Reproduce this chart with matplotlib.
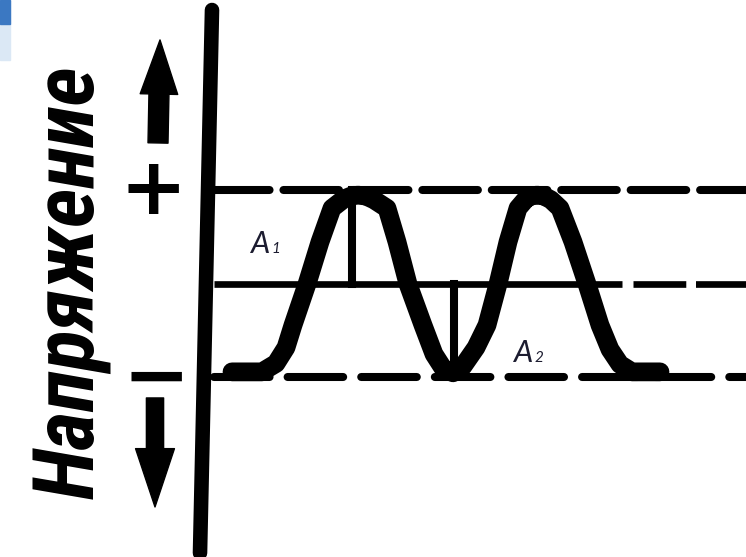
import matplotlib.pyplot as plt
from matplotlib.patches import Rectangle
from matplotlib import font_manager
import matplotlib

matplotlib.rcParams['lines.scale_dashes'] = False

# сигнал: время (усл. ед.) и напряжение (доли амплитуды)
t_sig = [232, 262, 276, 286, 293, 307, 320, 332, 344, 351, 358, 366, 374, 387, 397, 408, 423, 434,
         443, 453, 463, 476, 487, 498, 508, 518, 526, 531, 537, 544, 551, 560, 573, 587, 600, 610,
         620, 632, 660]
u_sig = [-0.94, -0.94, -0.85, -0.68, -0.44, 0.0, 0.45, 0.81, 0.91, 0.94, 0.95, 0.94, 0.90, 0.81,
         0.45, 0.0, -0.44, -0.75, -0.9, -0.95, -0.88, -0.68, -0.44, 0.0, 0.45, 0.81, 0.91, 0.94,
         0.95, 0.94, 0.90, 0.81, 0.45, 0.0, -0.44, -0.7, -0.86, -0.94, -0.94]

u_plus = 1.0     # уровень "+"
u_minus = -1.0   # уровень "-"
t_a1 = 352       # где отмечена A1
t_a2 = 454       # где отмечена A2

ylabel = 'Напряжение'


def pick_family(names):
    for name in names:
        try:
            font_manager.findfont(font_manager.FontProperties(family=name), fallback_to_default=False)
            return name
        except ValueError:
            pass
    return 'DejaVu Sans'


fig = plt.figure(figsize=(7.46, 5.57), dpi=100)
ax = fig.add_axes([0, 0, 1, 1])
ax.set_xlim(0, 746)
ax.set_ylim(-2.92, 3.037)
ax.axis('off')

# уровни
ax.plot([214, 746], [u_plus, u_plus], color='black', lw=5.8, dashes=(40, 10), dash_capstyle='round')
ax.plot([214, 622], [0, 0], color='black', lw=4.8, solid_capstyle='butt')
ax.plot([633, 746], [0, 0], color='black', lw=4.8, dashes=(38, 7))
ax.plot([214, 746], [u_minus, u_minus], color='black', lw=5.8, dashes=(40, 13), dash_capstyle='round')

# амплитуды
ax.plot([t_a1, t_a1], [0, u_plus], color='black', lw=5.8)
ax.plot([t_a2, t_a2], [0, u_minus], color='black', lw=5.8)

# сам сигнал
ax.plot(t_sig, u_sig, color='black', lw=13.5, solid_capstyle='round', solid_joinstyle='round')

# ось напряжения
ax.plot([212, 200], [2.93, -2.877], color='black', lw=10.5, solid_capstyle='round')

# стрелки
ax.annotate('', xy=(160, 2.61), xytext=(158, 1.508),
            arrowprops=dict(arrowstyle='simple,head_length=1.95,head_width=1.35,tail_width=0.72',
                            mutation_scale=20, color='black', shrinkA=0, shrinkB=0))
ax.annotate('', xy=(155, -2.385), xytext=(155, -1.219),
            arrowprops=dict(arrowstyle='simple,head_length=2.1,head_width=1.4,tail_width=0.62',
                            mutation_scale=20, color='black', shrinkA=0, shrinkB=0))

ax.text(153, 1.07, '+', fontsize=58, fontweight='bold', family='DejaVu Sans',
        ha='center', va='center_baseline')
ax.text(156, -0.93, '\u2212', fontsize=58, fontweight='bold', family='DejaVu Sans',
        ha='center', va='center_baseline')

# подпись оси: узкий жирный шрифт, подгоняем кегль под длину оси
fam = pick_family(['Liberation Sans Narrow', 'Roboto Condensed', 'DejaVu Sans Condensed',
                   'Roboto', 'Liberation Sans', 'DejaVu Sans'])
yl = ax.text(94, (284 - 282) / 93.5, ylabel, rotation=90, rotation_mode='anchor', fontsize=50,
             fontweight='black', style='italic', family=[fam, 'DejaVu Sans'],
             ha='center', va='baseline')
fig.canvas.draw()
ext = yl.get_window_extent()
yl.set_fontsize(50 * 434 / ext.height)

# подписи амплитуд
lab = dict(color='#1c1c30', family=['Lato', 'DejaVu Sans'], style='italic', va='baseline')
ax.text(251, (284 - 253) / 93.5, 'A', fontsize=22, ha='left', **lab)
ax.text(271, (284 - 253) / 93.5, '1', fontsize=11, ha='left', **lab)
ax.text(514, (284 - 362) / 93.5, 'A', fontsize=22, ha='left', **lab)
ax.text(535, (284 - 362) / 93.5, '2', fontsize=11, ha='left', **lab)

# синий уголок сверху слева
fig.patches.append(Rectangle((0, 1 - 60 / 557), 10 / 746, 60 / 557, transform=fig.transFigure,
                             color='#dbe8f5', zorder=0))
fig.patches.append(Rectangle((0, 1 - 24 / 557), 10 / 746, 24 / 557, transform=fig.transFigure,
                             color='#3b78c2', zorder=1))

fig.savefig('out.png', dpi=100)
